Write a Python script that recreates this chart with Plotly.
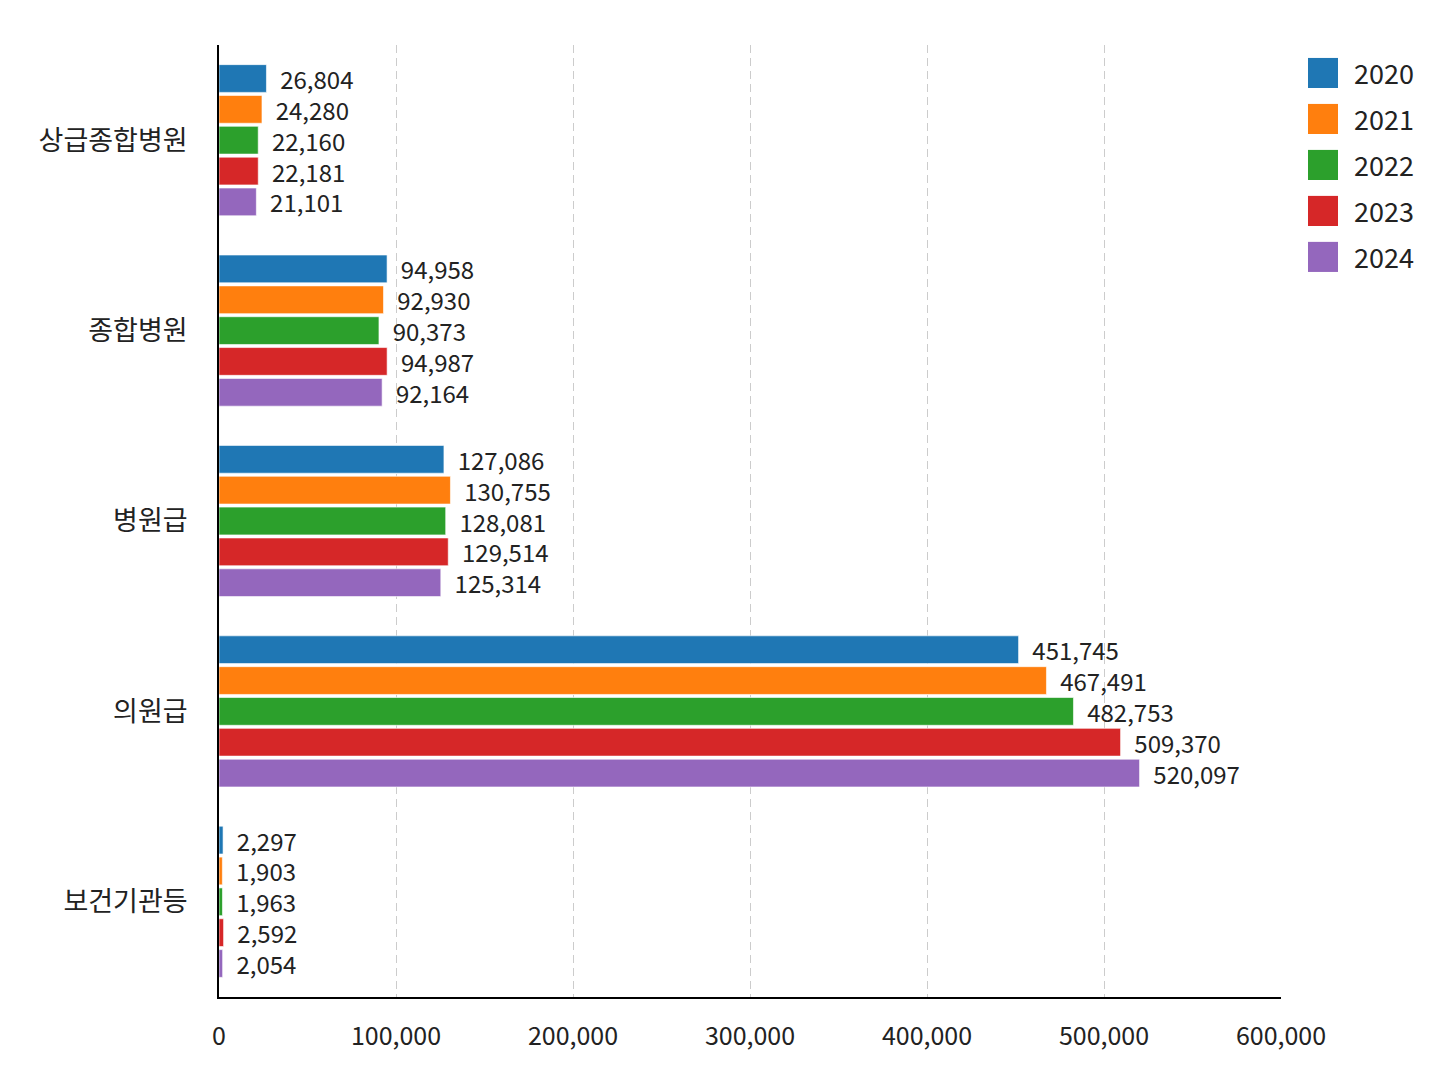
import plotly.graph_objects as go

# 의료기관 종별 데이터
categories = ['상급종합병원', '종합병원', '병원급', '의원급', '보건기관등']
years = ['2020', '2021', '2022', '2023', '2024']
values = {
    '2020': [26804, 94958, 127086, 451745, 2297],
    '2021': [24280, 92930, 130755, 467491, 1903],
    '2022': [22160, 90373, 128081, 482753, 1963],
    '2023': [22181, 94987, 129514, 509370, 2592],
    '2024': [21101, 92164, 125314, 520097, 2054],
}
colors = ['#1f77b4', '#ff7f0e', '#2ca02c', '#d62728', '#9467bd']

font_family = 'Noto Sans CJK KR, Noto Sans, sans-serif'

fig = go.Figure()
for year, color in zip(years, colors):
    fig.add_trace(go.Bar(
        y=categories,
        x=values[year],
        name=year,
        orientation='h',
        marker=dict(color=color, line=dict(color='rgba(255,255,255,0.6)', width=1)),
        text=['  ' + f'{v:,}' for v in values[year]],
        textposition='outside',
        constraintext='none',
        textfont=dict(size=24, color='#222222'),
        cliponaxis=False,
    ))

# 범례 (큰 정사각형 아이콘)
shapes = []
annotations = []
for i, (year, color) in enumerate(zip(years, colors)):
    yc = 0.9706 - i * 0.0483
    shapes.append(dict(
        type='rect', xref='paper', yref='paper',
        x0=1.0254, x1=1.0537, y0=yc - 0.0158, y1=yc + 0.0158,
        fillcolor=color, line=dict(width=0),
    ))
    annotations.append(dict(
        text=year, xref='paper', yref='paper',
        x=1.0668, y=yc, xanchor='left', yanchor='middle',
        showarrow=False, font=dict(size=27, color='#222222'),
    ))

fig.update_layout(
    width=1432,
    height=1070,
    barmode='group',
    bargap=0.19,
    bargroupgap=0.1,
    plot_bgcolor='white',
    paper_bgcolor='white',
    font=dict(family=font_family, size=24, color='#222222'),
    margin=dict(l=211, r=159, t=37, b=81, autoexpand=False),
    showlegend=False,
    shapes=shapes,
    annotations=annotations,
)

fig.update_xaxes(
    range=[0, 600000],
    tickvals=[0, 100000, 200000, 300000, 400000, 500000, 600000],
    tickformat=',',
    showgrid=True,
    gridcolor='#cccccc',
    griddash='8px,5px',
    gridwidth=1,
    showline=True,
    linecolor='black',
    linewidth=2,
    zeroline=False,
    ticks='',
    ticklabelstandoff=16,
    tickfont=dict(size=25),
    automargin=False,
)

fig.update_yaxes(
    autorange='reversed',
    showgrid=False,
    showline=True,
    linecolor='black',
    linewidth=2,
    ticks='',
    ticklabelstandoff=24,
    tickfont=dict(size=27),
    automargin=False,
)

fig.write_html('out.html')
